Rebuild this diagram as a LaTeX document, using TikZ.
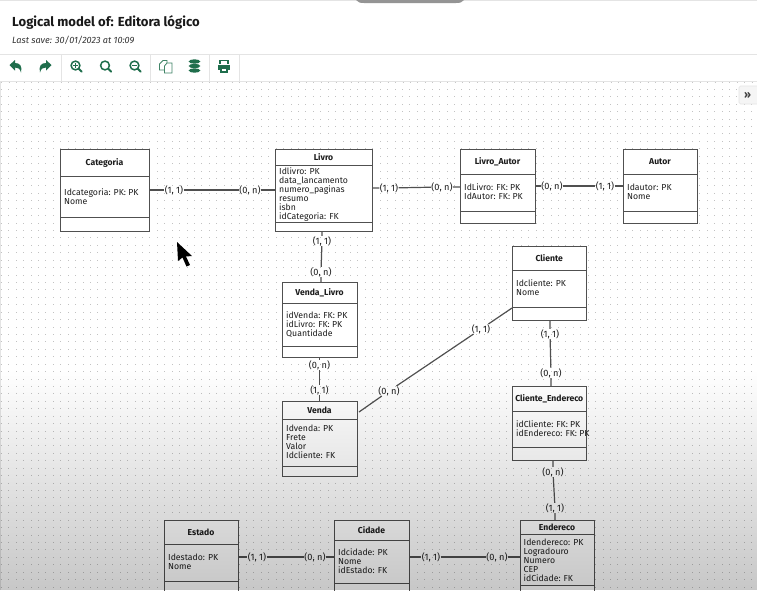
\documentclass[tikz,border=0pt]{standalone}
\usepackage{fontspec}
\setmainfont{Fira Sans}
\usetikzlibrary{fadings}
\definecolor{icongreen}{HTML}{1F6E4C}
\definecolor{rulegray}{HTML}{E4E4E4}
\definecolor{boxline}{HTML}{505050}
\definecolor{inktext}{HTML}{1C1C1C}
\tikzfading[name=fadedown,top color=transparent!100,bottom color=transparent!78]
\tikzset{
  x=1pt,y=-1pt,
  entitybox/.style={draw=boxline,line width=1pt,fill=white,inner sep=0pt,outer sep=0pt},
  divider/.style={draw=boxline,line width=1pt},
  entitytitle/.style={font=\fontsize{8.6}{9}\selectfont\bfseries,text=inktext,inner sep=0pt},
  entityattrs/.style={font=\fontsize{8.7}{9}\selectfont,text=inktext,inner sep=0pt,anchor=north west,align=left},
  card/.style={font=\fontsize{9.2}{9}\selectfont,text=inktext,inner sep=0.2pt},
  link/.style={draw=boxline,line width=1.2pt},
  toolicon/.style={fill=icongreen,draw=none},
  iconline/.style={draw=icongreen,line width=1.5pt,fill=none},
  sep/.style={draw=rulegray,line width=1pt}
}
\newcommand{\entity}[9]{%
  \node[entitybox,minimum width={(#4-#2)*1pt},minimum height={(#5-#3)*1pt}] (#1) at ({(#2+#4)/2},{(#3+#5)/2}) {};
  \draw[divider] (#2,#6) -- (#4,#6);
  \draw[divider] (#2,#7) -- (#4,#7);
  \node[entitytitle] (#1title) at ({(#2+#4)/2},{(#3+#6)/2}) {#8};
  #9
}
\newcommand{\attrs}[4]{\node[entityattrs] (#1) at (#2,#3) {#4};}
\begin{document}
\begin{tikzpicture}
\useasboundingbox (0,0) rectangle (757,590);
\clip (0,0) rectangle (757,590);
\fill[white] (0,0) rectangle (757,590);
% top window bar
\draw[rulegray,line width=1pt] (0,0.5) -- (757,0.5);
\fill[black!42] (356,0) -- (464,0) .. controls (462,2.5) and (460,3) .. (456,3) -- (364,3) .. controls (360,3) and (358,2.5) .. (356,0) -- cycle;
% header
\node[anchor=west,inner sep=0pt,font=\fontsize{13.1}{15}\selectfont\bfseries,text=black!90] (pagetitle) at (12,22) {Logical model of: Editora lógico};
\node[anchor=west,inner sep=0pt,font=\fontsize{9.1}{10}\selectfont\itshape,text=black!80] (lastsave) at (12,40) {Last save: 30/01/2023 at 10:09};
\draw[sep] (0,54) -- (757,54);
\draw[sep] (0,81) -- (757,81);
\foreach \xx in {61,150,209,239} \draw[sep] (\xx,54) -- (\xx,81);
% undo / redo
\fill[toolicon] (9.5,65) -- (15,60) -- (15,63) .. controls (20,63) and (22.5,66) .. (21,72.5) .. controls (20,68.5) and (18,67.5) .. (15,67.5) -- (15,70.5) -- cycle;
\fill[toolicon] (51.5,65) -- (46,60) -- (46,63) .. controls (41,63) and (38.5,66) .. (40,72.5) .. controls (41,68.5) and (43,67.5) .. (46,67.5) -- (46,70.5) -- cycle;
% magnifiers
\foreach \xx in {75.5,105,134.5}{
  \draw[iconline] (\xx,65.5) circle (4.4);
  \draw[icongreen,line width=2pt,line cap=round] (\xx+3.4,68.9) -- (\xx+6.2,71.7);
}
\draw[icongreen,line width=1pt] (73,65.5) -- (78,65.5) (75.5,63) -- (75.5,68);
\draw[icongreen,line width=1pt] (132,65.5) -- (137,65.5);
% copy
\draw[icongreen!85,line width=0.8pt,fill=white] (159.5,64) -- (163,60.5) -- (167,60.5) -- (167,70) -- (159.5,70) -- cycle;
\draw[icongreen!85,line width=0.8pt,fill=white] (164.5,66) -- (167,63) -- (172,63) -- (172,73) -- (164.5,73) -- cycle;
% database
\foreach \yy in {61.5,66,70.5}
  \fill[toolicon] (194.5,\yy) ellipse (5.8 and 2.1);
% printer
\draw[icongreen,line width=1.2pt] (220,64) -- (220,60.5) -- (228,60.5) -- (228,64);
\fill[toolicon] (218,64.5) rectangle (230,70);
\fill[white] (221,67.5) rectangle (227,72);
\draw[icongreen,line width=1.1pt] (221,68) rectangle (227,72);
% canvas dots
\draw[rulegray,line width=0.8pt] (0.8,82) -- (0.8,590);
\draw[black!22,line width=0.8pt,dash pattern=on 1pt off 6.43pt] (1.3,82.2) -- (757,82.2);
\foreach \i in {0,...,68}{
  \pgfmathsetmacro{\dy}{89.3+7.43*\i}
  \foreach \j in {0,...,101}{
    \pgfmathsetmacro{\dx}{1.3+7.43*\j}
    \fill[black!24] (\dx-0.5,\dy-0.5) rectangle (\dx+0.5,\dy+0.5);
  }
}
% collapse handle
\draw[draw=black!10,fill=black!4,line width=0.6pt,rounded corners=1.5pt] (757.5,86) -- (739,86) -- (739,104) -- (757.5,104);
\node[inner sep=0pt,font=\fontsize{11}{11}\selectfont\bfseries,text=black!75] (handle) at (747.5,95) {»};
% entities
\entity{categoria}{60}{149}{149}{231}{176}{217}{Categoria}{\attrs{categoriaattrs}{64}{189}{Idcategoria: PK: PK\\Nome}}
\entity{livro}{275}{149}{372}{231}{165}{222}{Livro}{\attrs{livroattrs}{279}{168}{Idlivro: PK\\data\_lancamento\\numero\_paginas\\resumo\\isbn\\idCategoria: FK}}
\entity{livroautor}{460}{149}{535}{223}{174}{211}{Livro\_Autor}{\attrs{livroautorattrs}{464}{184}{IdLivro: FK: PK\\IdAutor: FK: PK}}
\entity{autor}{623}{149}{697}{223}{174}{211}{Autor}{\attrs{autorattrs}{627}{184}{Idautor: PK\\Nome}}
\entity{cliente}{512}{246}{586.5}{320}{270}{307}{Cliente}{\attrs{clienteattrs}{516}{280}{Idcliente: PK\\Nome}}
\entity{vendalivro}{282}{282}{357}{357}{303}{346}{Venda\_Livro}{\attrs{vendalivroattrs}{286}{312}{idVenda: FK: PK\\idLivro: FK: PK\\Quantidade}}
\entity{venda}{282}{401}{357}{476}{419}{466}{Venda}{\attrs{vendaattrs}{286}{425}{Idvenda: PK\\Frete\\Valor\\Idcliente: FK}}
\entity{clienteend}{512}{386}{586.5}{460}{411}{447}{Cliente\_Endereco}{\attrs{clienteendattrs}{516}{421}{idCliente: FK: PK\\idEndereco: FK: PK}}
\entity{estado}{164}{520}{238}{600}{544}{581}{Estado}{\attrs{estadoattrs}{168}{554}{Idestado: PK\\Nome}}
\entity{cidade}{334}{520}{409}{600}{540}{583}{Cidade}{\attrs{cidadeattrs}{338}{549}{Idcidade: PK\\Nome\\idEstado: FK}}
\entity{endereco}{520}{520}{594}{600}{534}{585}{Endereco}{\attrs{enderecoattrs}{523.5}{539}{Idendereco: PK\\Logradouro\\Numero\\CEP\\idCidade: FK}}
% cardinalities
\node[card] (ca) at (174,190) {(1, 1)};
\node[card] (cb) at (250,190) {(0, n)};
\node[card] (la) at (389,188) {(1, 1)};
\node[card] (lb) at (442,187) {(0, n)};
\node[card] (aa) at (552,186) {(0, n)};
\node[card] (ab) at (605,186) {(1, 1)};
\node[card] (va) at (322,241) {(1, 1)};
\node[card] (vb) at (321,272) {(0, n)};
\node[card] (wa) at (319.5,365) {(0, n)};
\node[card] (wb) at (319.5,390) {(1, 1)};
\node[card] (da) at (481,329) {(1, 1)};
\node[card] (db) at (389,391) {(0, n)};
\node[card] (ea) at (550,334) {(1, 1)};
\node[card] (eb) at (551,373) {(0, n)};
\node[card] (fa) at (553,472) {(0, n)};
\node[card] (fb) at (555,508) {(1, 1)};
\node[card] (ga) at (257,557) {(1, 1)};
\node[card] (gb) at (315,557) {(0, n)};
\node[card] (ha) at (431,557) {(1, 1)};
\node[card] (hb) at (497,557) {(0, n)};
% connectors
\coordinate (clientefoot) at (512,308);
\coordinate (vendafoot) at (359,412);
\draw[link] (ca -| categoria.east) -- (ca) -- (cb) -- (cb -| livro.west);
\draw[link] (la -| livro.east) -- (la) -- (lb) -- (lb -| livroautor.west);
\draw[link] (aa -| livroautor.east) -- (aa) -- (ab) -- (ab -| autor.west);
\draw[link] (va |- livro.south) -- (va) -- (vb) -- (vb |- vendalivro.north);
\draw[link] (wa |- vendalivro.south) -- (wa) -- (wb) -- (wb |- venda.north);
\draw[link] (clientefoot) -- (da) -- (db) -- (vendafoot);
\draw[link] (ea |- cliente.south) -- (ea) -- (eb) -- (eb |- clienteend.north);
\draw[link] (fa |- clienteend.south) -- (fa) -- (fb) -- (fb |- endereco.north);
\draw[link] (ga -| estado.east) -- (ga) -- (gb) -- (gb -| cidade.west);
\draw[link] (ha -| cidade.east) -- (ha) -- (hb) -- (hb -| endereco.west);
% mouse pointer
\fill[black] (177,242) -- (178,261) -- (182.5,257.5) -- (186.5,266.5) -- (190,265) -- (186,256.5) -- (192,256) -- cycle;
% darkening towards the bottom of the frame
\fill[black,path fading=fadedown,fit fading=true] (0,370) rectangle (757,590);
\end{tikzpicture}
\end{document}
